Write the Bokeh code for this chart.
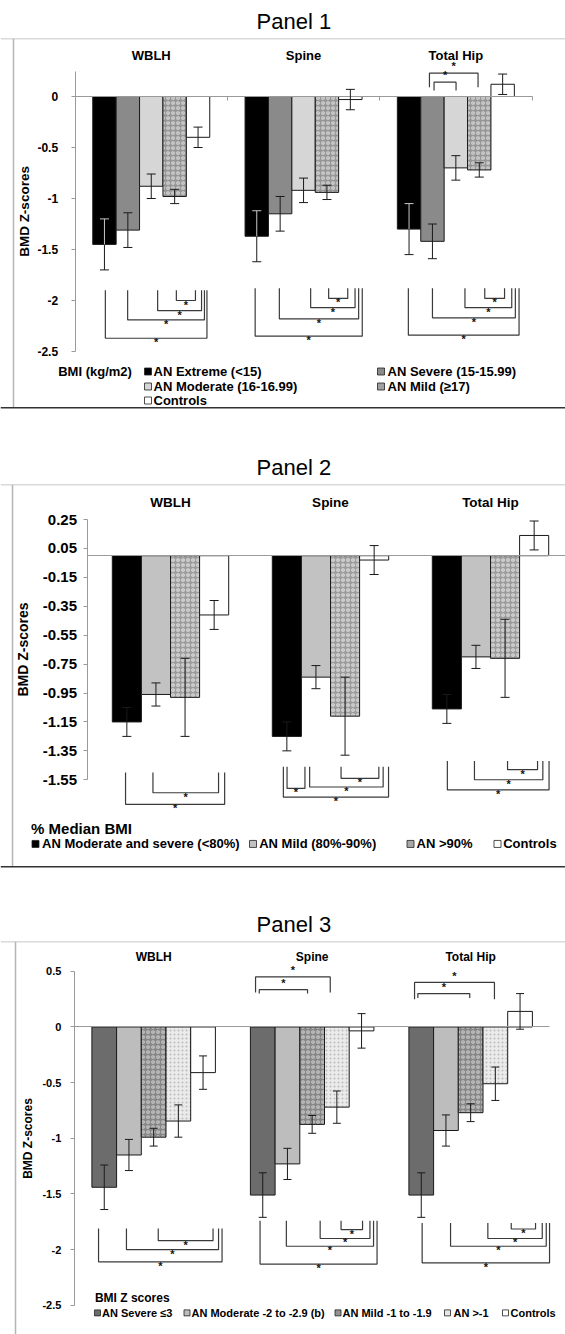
from bokeh.plotting import figure
from bokeh.models import (ColumnDataSource, LinearAxis, FixedTicker, CustomJSTickFormatter,
                          Whisker, TeeHead, Span)
from bokeh.layouts import column
from bokeh.embed import file_html
from bokeh.resources import INLINE
from bokeh.core.properties import value

FONT = "Liberation Sans"
SITES = ["WBLH", "Spine", "Total Hip"]

# ---------------- Panel 1: BMI (kg/m2) ----------------
P1_GROUPS = ["AN Extreme (<15)", "AN Severe (15-15.99)", "AN Moderate (16-16.99)",
             "AN Mild (≥17)", "Controls"]
P1_EXTREME = [-1.45, -1.37, -1.30]
P1_EXTREME_ERR = [0.25, 0.25, 0.25]
P1_SEVERE = [-1.31, -1.15, -1.42]
P1_SEVERE_ERR = [0.17, 0.17, 0.17]
P1_MODERATE = [-0.88, -0.92, -0.70]
P1_MODERATE_ERR = [0.12, 0.12, 0.12]
P1_MILD = [-0.98, -0.94, -0.72]
P1_MILD_ERR = [0.07, 0.07, 0.07]
P1_CONTROLS = [-0.40, -0.03, 0.12]
P1_CONTROLS_ERR = [0.10, 0.10, 0.10]
P1_TICKS = [0, -0.5, -1, -1.5, -2, -2.5]
# significance brackets: (site, group a, group b, bracket level, end level)
P1_SIG = [
    (0, 3, 4, -2.00, -1.90), (0, 2, 4, -2.10, -1.90), (0, 1, 4, -2.19, -1.90), (0, 0, 4, -2.37, -1.90),
    (1, 3, 4, -1.98, -1.88), (1, 2, 4, -2.07, -1.88), (1, 1, 4, -2.18, -1.88), (1, 0, 4, -2.35, -1.88),
    (2, 3, 4, -1.98, -1.88), (2, 2, 4, -2.07, -1.88), (2, 1, 4, -2.17, -1.88), (2, 0, 4, -2.34, -1.88),
    (2, 1, 3, 0.23, 0.09), (2, 1, 2, 0.14, 0.06),
]

# ---------------- Panel 2: % median BMI ----------------
P2_GROUPS = ["AN Moderate and severe (<80%)", "AN Mild (80%-90%)", "AN >90%", "Controls"]
P2_MODSEV = [-1.15, -1.25, -1.06]
P2_MODSEV_ERR = [0.10, 0.10, 0.10]
P2_MILD = [-0.96, -0.84, -0.70]
P2_MILD_ERR = [0.08, 0.08, 0.08]
P2_OVER90 = [-0.98, -1.11, -0.71]
P2_OVER90_ERR = [0.27, 0.27, 0.27]
P2_CONTROLS = [-0.41, -0.03, 0.14]
P2_CONTROLS_ERR = [0.10, 0.10, 0.10]
P2_TICKS = [0.25, 0.05, -0.15, -0.35, -0.55, -0.75, -0.95, -1.15, -1.35, -1.55]
P2_SIG = [
    (0, 0, 3, -1.72, -1.50), (0, 1, 3, -1.64, -1.50),
    (1, 0, 1, -1.61, -1.46), (1, 1, 3, -1.60, -1.46), (1, 2, 3, -1.54, -1.46), (1, 0, 3, -1.67, -1.46),
    (2, 0, 3, -1.62, -1.42), (2, 1, 3, -1.55, -1.42), (2, 2, 3, -1.48, -1.42),
]

# ---------------- Panel 3: BMI Z scores ----------------
P3_GROUPS = ["AN Severe ≤3", "AN Moderate -2 to -2.9 (b)", "AN Mild -1 to -1.9", "AN >-1", "Controls"]
P3_SEVERE = [-1.44, -1.51, -1.51]
P3_SEVERE_ERR = [0.20, 0.20, 0.20]
P3_MODERATE = [-1.15, -1.23, -0.93]
P3_MODERATE_ERR = [0.14, 0.14, 0.14]
P3_MILD = [-0.99, -0.875, -0.77]
P3_MILD_ERR = [0.08, 0.08, 0.08]
P3_OVERM1 = [-0.845, -0.72, -0.51]
P3_OVERM1_ERR = [0.145, 0.145, 0.15]
P3_CONTROLS = [-0.41, -0.035, 0.14]
P3_CONTROLS_ERR = [0.15, 0.155, 0.16]
P3_TICKS = [0.5, 0, -0.5, -1, -1.5, -2, -2.5]
P3_SIG = [
    (0, 0, 4, -2.11, -1.81), (0, 1, 4, -2.00, -1.81), (0, 2, 4, -1.92, -1.81),
    (1, 0, 4, -2.13, -1.74), (1, 1, 4, -1.97, -1.74), (1, 2, 4, -1.90, -1.74), (1, 3, 4, -1.82, -1.74),
    (2, 0, 4, -2.12, -1.76), (2, 1, 4, -1.97, -1.76), (2, 2, 4, -1.90, -1.76), (2, 3, 4, -1.815, -1.76),
    (1, 0, 3, 0.45, 0.31), (1, 0, 2, 0.335, 0.30),
    (2, 0, 3, 0.40, 0.25), (2, 0, 2, 0.30, 0.26),
]

# ---------------- layout / style (page pixels) ----------------
# Bokeh's page template removes the body margin, so the canvas starts at (0, 0).
PAGE = 0
W = 565
RIGHT = PAGE + W

P1_NUDGE = [(1.7, -2.6), (6.4, 3.5), (-0.2, 6.4), (0.9, 8.9),
            (1.7, -2.6), (7.1, 4.7), (-0.8, 8.3), (-1.6, 11.9),
            (5.5, 1.9), (9.1, 9.1), (0.0, 12.7), (-0.7, 16.4),
            (-3.0, -1.2), (1.6, 0.2)]
P2_NUDGE = [(-1.3, 10.5), (-3.0, 4.4),
            (0.2, -11.0), (-6.3, 9.0), (-4.0, 4.7), (-3.5, 14.4),
            (0.5, 14.9), (-1.5, 8.7), (2.5, 3.4)]
P3_NUDGE = [(-5.7, 19.0), (-2.5, 15.5), (4.6, 10.0),
            (-2.7, 15.5), (-1.1, 12.0), (8.0, 8.4), (4.2, 1.0),
            (0.9, 29.5), (4.6, 26.2), (17.2, 22.2), (15.9, 15.5),
            (-7.2, -6.6), (-3.5, -4.6), (-6.7, -0.9), (-3.4, -0.9)]

BAR_LINE = "#1a1a1a"

P1_STYLE = [dict(fill_color="#000000", up_color="#c8c8c8"),
            dict(fill_color="#8a8a8a"),
            dict(fill_color="#d6d6d6"),
            dict(fill_color="#969696", hatch_pattern="ring", hatch_color="#d9d9d9",
                 hatch_scale=5, hatch_weight=1.2, swatch="#a0a0a0"),
            dict(fill_color="#ffffff")]
P2_STYLE = [dict(fill_color="#000000"),
            dict(fill_color="#c2c2c2"),
            dict(fill_color="#9c9c9c", hatch_pattern="ring", hatch_color="#e0e0e0",
                 hatch_scale=5, hatch_weight=1.2, swatch="#a8a8a8"),
            dict(fill_color="#ffffff")]
P3_STYLE = [dict(fill_color="#6c6c6c"),
            dict(fill_color="#bdbdbd"),
            dict(fill_color="#878787", hatch_pattern="ring", hatch_color="#cacaca",
                 hatch_scale=5, hatch_weight=1.2, swatch="#929292"),
            dict(fill_color="#ebebeb", hatch_pattern="dot", hatch_color="#bdbdbd",
                 hatch_scale=4, hatch_weight=1, swatch="#e6e6e6"),
            dict(fill_color="#ffffff")]


def make_panel(cfg):
    g = cfg["geo"]
    x0, cw, y0, uh = g["x0"], g["cw"], g["y0"], g["uh"]
    X = lambda px: (px - x0) / cw
    Y = lambda py: (y0 - py) / uh
    DX = lambda d: d / cw
    DY = lambda d: d / uh
    ct, ch, fl, ft, fb = g["ct"], g["ch"], g["fl"], g["ft"], g["fb"]

    # the plotting frame spans the full canvas width; the box line is drawn at fl
    p = figure(width=W, height=ch, x_range=(X(PAGE), X(RIGHT)), y_range=(Y(fb), Y(ft)),
               output_backend="svg", toolbar_location=None,
               x_axis_location=None, y_axis_location=None,
               min_border_left=0, min_border_right=0,
               min_border_top=ft - ct, min_border_bottom=ct + ch - fb,
               outline_line_color=None)
    p.grid.visible = False
    p.title.text = cfg["title"]
    p.title.align = "left"
    p.title.offset = cfg["title_offset"]
    p.title.text_font = FONT
    p.title.text_font_size = "22px"
    p.title.text_font_style = "normal"
    p.title.text_color = "#000000"

    # frame box lines
    p.add_layout(Span(location=Y(ft), dimension="width", line_color="#b5b5b5", line_width=1.5))
    p.add_layout(Span(location=X(fl), dimension="height", line_color="#b5b5b5", line_width=1.5))
    if cfg.get("bottom_line"):
        p.add_layout(Span(location=Y(fb), dimension="width", line_color="#333333", line_width=3))

    series = cfg["series"]
    styles = cfg["styles"]
    n = len(series)
    bw = g["bw"] / cw

    def center(site, k):
        return site + 0.5 + (k - (n - 1) / 2) * bw

    for k, (vals, errs) in enumerate(series):
        st = dict(styles[k])
        up_color = st.pop("up_color", BAR_LINE)
        st.pop("swatch", None)
        src = ColumnDataSource(dict(
            x=[center(i, k) for i in range(3)], v=vals,
            lo=[v - e for v, e in zip(vals, errs)], hi=[v + e for v, e in zip(vals, errs)]))
        p.vbar(x="x", width=bw, top="v", bottom=0, source=src, line_color=BAR_LINE,
               line_width=1, **st)
        p.add_layout(Whisker(source=src, base="x", lower="lo", upper="v", level="annotation",
                             line_color=BAR_LINE, line_width=1, upper_head=None,
                             lower_head=TeeHead(size=g["cap"], line_color=BAR_LINE, line_width=1)))
        p.add_layout(Whisker(source=src, base="x", lower="v", upper="hi", level="annotation",
                             line_color=up_color, line_width=1, lower_head=None,
                             upper_head=TeeHead(size=g["cap"], line_color=up_color, line_width=1)))

    # axes
    ticks = cfg["ticks"]
    ya = LinearAxis(fixed_location=X(g["axis_px"]), ticker=FixedTicker(ticks=ticks),
                    formatter=CustomJSTickFormatter(code="return tick.toString()"),
                    bounds=(min(ticks), cfg["ytop"]),
                    axis_line_color="#9a9a9a", major_tick_line_color="#9a9a9a",
                    major_tick_out=4, major_tick_in=0,
                    major_label_text_font=FONT, major_label_text_font_style="bold",
                    major_label_text_font_size=cfg["tick_size"], major_label_text_color="#000000",
                    major_label_standoff=cfg["tick_standoff"],
                    axis_label="BMD Z-scores", axis_label_text_font=FONT,
                    axis_label_text_font_style="bold", axis_label_text_font_size=cfg["label_size"],
                    axis_label_text_color="#000000", axis_label_standoff=cfg["label_standoff"])
    p.add_layout(ya, "left")
    xa = LinearAxis(fixed_location=0, ticker=FixedTicker(ticks=cfg["xticks"]),
                    formatter=CustomJSTickFormatter(code="return ''"),
                    bounds=(X(g["axis_px"]), cfg["xend"]),
                    axis_line_color="#9a9a9a", major_tick_line_color="#9a9a9a",
                    major_tick_out=4, major_tick_in=0)
    p.add_layout(xa, "below")

    # significance brackets and asterisks
    bx, by, sx, sy = [], [], [], []
    for (site, a, b, lev, end), (nl, nr) in zip(cfg["sig"], cfg["nudge"]):
        xl = center(site, a) + DX(nl)
        xr = center(site, b) + DX(nr)
        bx.append([xl, xl, xr, xr])
        by.append([end, lev, lev, end])
        sx.append((xl + xr) / 2)
        sy.append(lev + DY(7) if lev > end else lev - DY(4))
    p.multi_line(xs=bx, ys=by, line_color="#3a3a3a", line_width=1.2)
    p.text(x=sx, y=sy, text=["*"] * len(sx), text_font=value(FONT), text_font_style="bold",
           text_font_size="11px", text_align="center", text_baseline="middle", text_color="#111111")

    # site titles
    p.text(x=[0.5, 1.5, 2.5], y=[Y(cfg["site_py"])] * 3, text=SITES, text_font=value(FONT),
           text_font_style="bold", text_font_size=cfg["site_size"], text_align="center",
           text_baseline="middle", text_color="#000000")

    # legend
    lg = cfg["legend"]
    p.text(x=[X(lg["title_px"])], y=[Y(lg["title_py"])], text=[lg["title"]], text_font=value(FONT),
           text_font_style="bold", text_font_size=lg["title_size"], text_align="left",
           text_baseline="middle", text_color="#000000")
    sw_colors = [st.get("swatch", st["fill_color"]) for st in styles]
    p.scatter(x=[X(v) for v in lg["sw_px"]], y=[Y(v) for v in lg["py"]], marker="square",
              size=lg["sw_size"], fill_color=sw_colors, line_color="#222222", line_width=0.8)
    p.text(x=[X(v) for v in lg["tx_px"]], y=[Y(v) for v in lg["py"]], text=cfg["groups"],
           text_font=value(FONT), text_font_style="bold", text_font_size=lg["size"],
           text_align="left", text_baseline="middle", text_color="#000000")
    return p


p1 = make_panel(dict(
    title="Panel 1", title_offset=256,
    geo=dict(ct=0, ch=447, fl=13, ft=38, fb=408, x0=74.6, cw=152.3, y0=96, uh=102,
             bw=23.4, axis_px=74.6, cap=9),
    series=[(P1_EXTREME, P1_EXTREME_ERR), (P1_SEVERE, P1_SEVERE_ERR),
            (P1_MODERATE, P1_MODERATE_ERR), (P1_MILD, P1_MILD_ERR),
            (P1_CONTROLS, P1_CONTROLS_ERR)],
    styles=P1_STYLE, groups=P1_GROUPS, ticks=P1_TICKS, ytop=0.245,
    tick_size="12px", tick_standoff=13, label_size="13.5px", label_standoff=3,
    xticks=[0, 1, 2, 3], xend=3.0, sig=P1_SIG, nudge=P1_NUDGE,
    site_py=55, site_size="13px", bottom_line=True,
    legend=dict(title="BMI (kg/m2)", title_px=57.7, title_py=371, title_size="13px",
                sw_px=[147.5, 380.5, 147.5, 380.5, 147.5], tx_px=[153, 387, 153, 387, 153],
                py=[371, 371, 386, 386, 400], sw_size=7, size="13px"),
))

p2 = make_panel(dict(
    title="Panel 2", title_offset=256,
    geo=dict(ct=447, ch=457, fl=12, ft=477, fb=867, x0=90, cw=160, y0=549.5, uh=147.2,
             bw=29.1, axis_px=86.5, cap=9),
    series=[(P2_MODSEV, P2_MODSEV_ERR), (P2_MILD, P2_MILD_ERR),
            (P2_OVER90, P2_OVER90_ERR), (P2_CONTROLS, P2_CONTROLS_ERR)],
    styles=P2_STYLE, groups=P2_GROUPS, ticks=P2_TICKS, ytop=0.25,
    tick_size="15px", tick_standoff=6, label_size="14px", label_standoff=9,
    xticks=[], xend=(RIGHT - 90) / 160, sig=P2_SIG, nudge=P2_NUDGE,
    site_py=495, site_size="13.5px", bottom_line=True,
    legend=dict(title="% Median BMI", title_px=30.6, title_py=827, title_size="15px",
                sw_px=[35, 252.5, 410, 497], tx_px=[41.5, 258.7, 416, 502.7],
                py=[843, 843, 843, 843], sw_size=7, size="13px"),
))

p3 = make_panel(dict(
    title="Panel 3", title_offset=256,
    geo=dict(ct=904, ch=430, fl=15, ft=934, fb=1334, x0=73.9, cw=158.5, y0=1021, uh=113.3,
             bw=24.7, axis_px=73.9, cap=8),
    series=[(P3_SEVERE, P3_SEVERE_ERR), (P3_MODERATE, P3_MODERATE_ERR),
            (P3_MILD, P3_MILD_ERR), (P3_OVERM1, P3_OVERM1_ERR),
            (P3_CONTROLS, P3_CONTROLS_ERR)],
    styles=P3_STYLE, groups=P3_GROUPS, ticks=P3_TICKS, ytop=0.5,
    tick_size="11px", tick_standoff=9, label_size="12px", label_standoff=5,
    xticks=[], xend=3.0, sig=P3_SIG, nudge=P3_NUDGE,
    site_py=950, site_size="12px", bottom_line=False,
    legend=dict(title="BMI  Z scores", title_px=94.4, title_py=1297, title_size="12px",
                sw_px=[97, 186.5, 337.5, 447, 505], tx_px=[101.5, 191, 342, 453, 510],
                py=[1312] * 5, sw_size=6, size="11px"),
))

layout = column(p1, p2, p3)
open("out.html", "w").write(file_html(layout, INLINE))
